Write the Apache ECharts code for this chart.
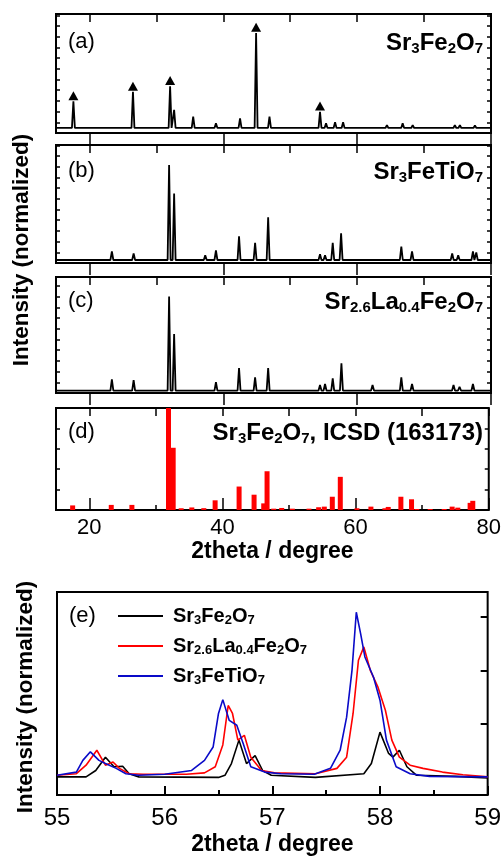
<!DOCTYPE html>
<html>
<head>
<meta charset="utf-8">
<script src="https://cdn.jsdelivr.net/npm/echarts@6/dist/echarts.min.js"></script>
<style>
  html, body { margin: 0; padding: 0; background: #fff; }
  #chart { width: 504px; height: 859px; }
</style>
</head>
<body>
<div id="chart"></div>
<script>
const FONT = "'Liberation Sans', Arial, sans-serif";

// x ticks of the stacked panels
const xMajor = [20, 40, 60, 80];
const xAll = [20, 30, 40, 50, 60, 70, 80];
const xMinor = [30, 50, 70];

// (a) Sr3Fe2O7 : [2theta, normalized height]
const peaksA = [[17.6,0.28],[26.5,0.38],[32.05,0.44],[32.65,0.19],[35.5,0.12],[38.9,0.05],[42.5,0.1],[44.9,1.0],[46.9,0.12],[54.45,0.17],[55.35,0.05],[56.7,0.06],[57.9,0.06],[64.45,0.03],[66.8,0.05],[68.3,0.03],[74.6,0.03],[75.35,0.03],[77.6,0.025]];
const markersA = [[17.6,0.34],[26.5,0.44],[32.05,0.5],[44.9,1.06],[54.45,0.23]];

// (b) Sr3FeTiO7
const peaksB = [[23.35,0.09],[26.6,0.07],[31.9,1.0],[32.65,0.7],[37.3,0.05],[38.9,0.1],[42.35,0.25],[44.75,0.18],[46.7,0.45],[54.45,0.06],[55.2,0.05],[56.35,0.18],[57.6,0.28],[66.6,0.14],[68.2,0.09],[74.2,0.07],[75.1,0.05],[77.3,0.09],[77.8,0.08]];

// (c) Sr2.6La0.4Fe2O7
const peaksC = [[23.35,0.12],[26.6,0.11],[31.9,1.0],[32.65,0.6],[38.9,0.09],[42.35,0.24],[44.75,0.14],[46.7,0.24],[54.45,0.06],[55.2,0.07],[56.35,0.13],[57.65,0.29],[62.3,0.06],[66.6,0.14],[68.2,0.07],[74.4,0.06],[75.3,0.04],[77.3,0.07]];

// (d) ICSD 163173 reference lines
const barsD = [[17.5,4.5],[23.3,5],[26.4,5],[31.9,100],[32.6,61],[33.8,1.7],[35.4,2.5],[37.2,1.8],[38.9,9.5],[42.5,23],[44.75,15],[46.2,6.5],[46.7,38],[47.7,1.3],[48.9,2],[50.5,1.3],[53.0,1.3],[54.45,2.7],[55.3,3.3],[56.5,13],[57.7,32.5],[60.2,1.7],[62.3,3.3],[64.4,1.7],[64.9,3],[66.8,13],[68.4,10.5],[69.2,1],[71.2,1],[73.3,1],[74.5,3.3],[75.35,2.3],[77.2,7],[77.6,9]];

// (e) zoom 55-59
const zoomBlack = [[55,0],[55.27,0],[55.36,0.12],[55.45,0.37],[55.53,0.19],[55.61,0.2],[55.67,0.06],[55.76,0],[56.5,-0.01],[56.56,0.03],[56.62,0.25],[56.69,0.69],[56.76,0.25],[56.84,0.4],[56.91,0.12],[56.99,0.03],[57.4,-0.01],[57.85,0.06],[57.92,0.25],[58.0,0.84],[58.08,0.44],[58.12,0.37],[58.18,0.5],[58.25,0.19],[58.34,0.03],[58.7,0.01],[59,-0.02]];
const zoomRed = [[55,0.03],[55.18,0.06],[55.27,0.22],[55.37,0.5],[55.45,0.22],[55.52,0.28],[55.58,0.16],[55.67,0.06],[55.8,0.05],[56.2,0.05],[56.37,0.075],[56.47,0.19],[56.54,0.6],[56.59,1.34],[56.63,1.19],[56.68,0.69],[56.74,0.78],[56.8,0.37],[56.9,0.12],[57.02,0.075],[57.4,0.06],[57.6,0.16],[57.69,0.37],[57.75,1.19],[57.8,2.19],[57.85,2.44],[57.91,2.0],[57.98,1.69],[58.05,1.25],[58.11,0.69],[58.18,0.37],[58.28,0.22],[58.4,0.16],[58.58,0.09],[58.77,0.04],[59,0]];
const zoomBlue = [[55,0.03],[55.18,0.09],[55.24,0.31],[55.31,0.47],[55.39,0.31],[55.45,0.25],[55.55,0.16],[55.64,0.06],[55.76,0.03],[56.0,0.05],[56.25,0.12],[56.37,0.31],[56.45,0.56],[56.5,1.19],[56.54,1.45],[56.6,1.06],[56.67,0.97],[56.73,0.62],[56.8,0.19],[56.93,0.09],[57.08,0.06],[57.39,0.05],[57.54,0.16],[57.63,0.5],[57.69,1.12],[57.74,2.0],[57.78,3.09],[57.82,2.69],[57.86,2.25],[57.94,1.87],[58.0,1.44],[58.06,0.69],[58.15,0.19],[58.28,0.06],[58.46,0.01],[59,0]];
const zoomTicks = [1, 2, 3];

const nameA = 'Sr_3Fe_2O_7';
const nameB = 'Sr_3FeTiO_7';
const nameC = 'Sr_2.6La_0.4Fe_2O_7';
const nameD = 'Sr_3Fe_2O_7, ICSD (163173)';

// turn "Sr_3Fe_2O_7" into rich text with subscripts
function chem(str) {
  const parts = str.split(/_([\d.]+)/);
  return parts.map((p, i) => p === '' ? '' : (i % 2 ? '{s|' + p + '}' : '{n|' + p + '}')).join('');
}

function profile(peaks, base, scale) {
  const pts = [[15, base]];
  peaks.slice().sort((a, b) => a[0] - b[0]).forEach(([x, h]) => {
    pts.push([x - 0.22, base], [x, base + h * scale], [x + 0.22, base]);
  });
  pts.push([80, base]);
  return pts;
}

const panels = [
  { top: 14, height: 119, max: 11.12, base: 0.47, scale: 8.88 },
  { top: 145, height: 118, max: 11.03, base: 0.28, scale: 8.88 },
  { top: 277, height: 116, max: 10.84, base: 0.23, scale: 8.79 },
  { top: 408, height: 102 }
];

const richBig = {
  n: { fontSize: 24, fontWeight: 'bold', fontFamily: FONT, color: '#000', lineHeight: 26 },
  s: { fontSize: 15, fontWeight: 'bold', fontFamily: FONT, color: '#000', verticalAlign: 'bottom', lineHeight: 15 }
};

const grids = panels.map(p => ({
  left: 56, right: 13, top: p.top, height: p.height,
  show: true, borderColor: '#000', borderWidth: 2
}));
grids.push({ left: 57, right: 12, top: 592, height: 203, show: true, borderColor: '#000', borderWidth: 2 });

const tickLine = { color: '#000', width: 1.5 };
const boldTick = { color: '#000', width: 2 };
const noLine = { show: false, onZero: false };
const tick = (length, inside, customValues, lineStyle) =>
  ({ show: true, inside, length, customValues, lineStyle: lineStyle || tickLine });

const xAxes = [];
const yAxes = [];
panels.forEach((p, i) => {
  const last = i === 3;
  xAxes.push({
    type: 'value', gridIndex: i, min: 15, max: 80, position: 'bottom',
    axisLine: noLine,
    axisTick: tick(12, last, xMajor),
    axisLabel: last
      ? { customValues: xMajor, fontSize: 22, color: '#000', fontFamily: FONT, margin: 7 }
      : { show: false },
    splitLine: { show: false },
    name: last ? '2theta / degree' : '',
    nameLocation: 'middle', nameGap: 30,
    nameTextStyle: { fontSize: 23, fontWeight: 'bold', color: '#000', fontFamily: FONT }
  });
  xAxes.push({
    type: 'value', gridIndex: i, min: 15, max: 80, position: 'top',
    axisLine: noLine, axisTick: tick(8, true, xAll),
    axisLabel: { show: false }, splitLine: { show: false }
  });
  if (last) {
    xAxes.push({
      type: 'value', gridIndex: i, min: 15, max: 80, position: 'bottom',
      axisLine: noLine, axisTick: tick(5, true, xMinor),
      axisLabel: { show: false }, splitLine: { show: false }
    });
  }
  ['left', 'right'].forEach(pos => {
    yAxes.push({
      type: 'value', gridIndex: i, position: pos,
      min: 0, max: last ? 100 : p.max, interval: last ? 20 : 1,
      axisLine: noLine, axisTick: tick(4, true),
      axisLabel: { show: false }, splitLine: { show: false }
    });
  });
});
// panel (e)
const eX = xAxes.length;
xAxes.push({
  type: 'value', gridIndex: 4, min: 55, max: 59, interval: 1, position: 'bottom',
  axisLine: noLine, axisTick: tick(9, true, undefined, boldTick),
  minorTick: { show: true, splitNumber: 2, length: 5, lineStyle: boldTick },
  axisLabel: { fontSize: 24, color: '#000', fontFamily: FONT, margin: 11 },
  splitLine: { show: false },
  name: '2theta / degree', nameLocation: 'middle', nameGap: 38,
  nameTextStyle: { fontSize: 23, fontWeight: 'bold', color: '#000', fontFamily: FONT }
});
const eY = yAxes.length;
yAxes.push({
  type: 'value', gridIndex: 4, position: 'left', min: -0.34, max: 3.47,
  axisLine: noLine, axisTick: { show: false },
  axisLabel: { show: false }, splitLine: { show: false }
});
yAxes.push({
  type: 'value', gridIndex: 4, position: 'right', min: -0.34, max: 3.47,
  axisLine: noLine, axisTick: tick(7, true, zoomTicks, boldTick),
  axisLabel: { show: false }, splitLine: { show: false }
});

const xBottom = i => (i < 3 ? i * 2 : 6);
const lineSeries = (i, data) => ({
  type: 'line', xAxisIndex: xBottom(i), yAxisIndex: i * 2, data,
  showSymbol: false, silent: true, animation: false,
  lineStyle: { color: '#000', width: 1.8 }
});

const series = [
  lineSeries(0, profile(peaksA, panels[0].base, panels[0].scale)),
  lineSeries(1, profile(peaksB, panels[1].base, panels[1].scale)),
  lineSeries(2, profile(peaksC, panels[2].base, panels[2].scale)),
  {
    type: 'scatter', xAxisIndex: 0, yAxisIndex: 0, symbol: 'triangle', symbolSize: [10, 9],
    itemStyle: { color: '#000', opacity: 1 }, animation: false,
    data: markersA.map(([x, h]) => [x, panels[0].base + h * panels[0].scale])
  },
  {
    type: 'bar', xAxisIndex: 6, yAxisIndex: 6, data: barsD, barWidth: 5,
    itemStyle: { color: '#ff0000' }, animation: false
  },
  { name: nameA, type: 'line', xAxisIndex: eX, yAxisIndex: eY, data: zoomBlack, showSymbol: false,
    lineStyle: { color: '#000', width: 1.6 }, itemStyle: { color: '#000' }, animation: false },
  { name: nameC, type: 'line', xAxisIndex: eX, yAxisIndex: eY, data: zoomRed, showSymbol: false,
    lineStyle: { color: '#ff0000', width: 1.6 }, itemStyle: { color: '#ff0000' }, animation: false },
  { name: nameB, type: 'line', xAxisIndex: eX, yAxisIndex: eY, data: zoomBlue, showSymbol: false,
    lineStyle: { color: '#0a0ac8', width: 1.6 }, itemStyle: { color: '#0a0ac8' }, animation: false }
];

const labelStyle = { fontSize: 22, fontWeight: 'normal', color: '#000', fontFamily: FONT };
const centres = [43, 172, 302, 433];
const names = [nameA, nameB, nameC, nameD];
const title = [];
['(a)', '(b)', '(c)', '(d)'].forEach((t, i) => {
  title.push({ text: t, left: 68, top: centres[i] - 12, padding: 0, textStyle: labelStyle });
  title.push({ text: chem(names[i]), right: 21, top: centres[i] - 13, padding: 0,
    textStyle: { rich: richBig } });
});
title.push({ text: '(e)', left: 69, top: 605, padding: 0, textStyle: labelStyle });

const chart = echarts.init(document.getElementById('chart'));
chart.setOption({
  animation: false,
  grid: grids,
  xAxis: xAxes,
  yAxis: yAxes,
  title,
  legend: {
    data: [nameA, nameC, nameB],
    orient: 'vertical', left: 113, top: 601, itemGap: 9,
    itemWidth: 45, itemHeight: 2, icon: 'rect',
    formatter: n => chem(n),
    textStyle: {
      padding: [0, 0, 0, 5],
      rich: {
        n: { fontSize: 20, fontWeight: 'bold', fontFamily: FONT, color: '#000', lineHeight: 22 },
        s: { fontSize: 13, fontWeight: 'bold', fontFamily: FONT, color: '#000', verticalAlign: 'bottom', lineHeight: 13 }
      }
    }
  },
  graphic: [
    { type: 'text', x: 22, y: 250, rotation: Math.PI / 2,
      style: { text: 'Intensity (normalized)', font: "bold 22.5px 'Liberation Sans', Arial", fill: '#000', align: 'center', verticalAlign: 'middle' } },
    { type: 'text', x: 26, y: 697, rotation: Math.PI / 2,
      style: { text: 'Intensity (normalized)', font: "bold 22.5px 'Liberation Sans', Arial", fill: '#000', align: 'center', verticalAlign: 'middle' } }
  ],
  series
});
</script>
</body>
</html>
